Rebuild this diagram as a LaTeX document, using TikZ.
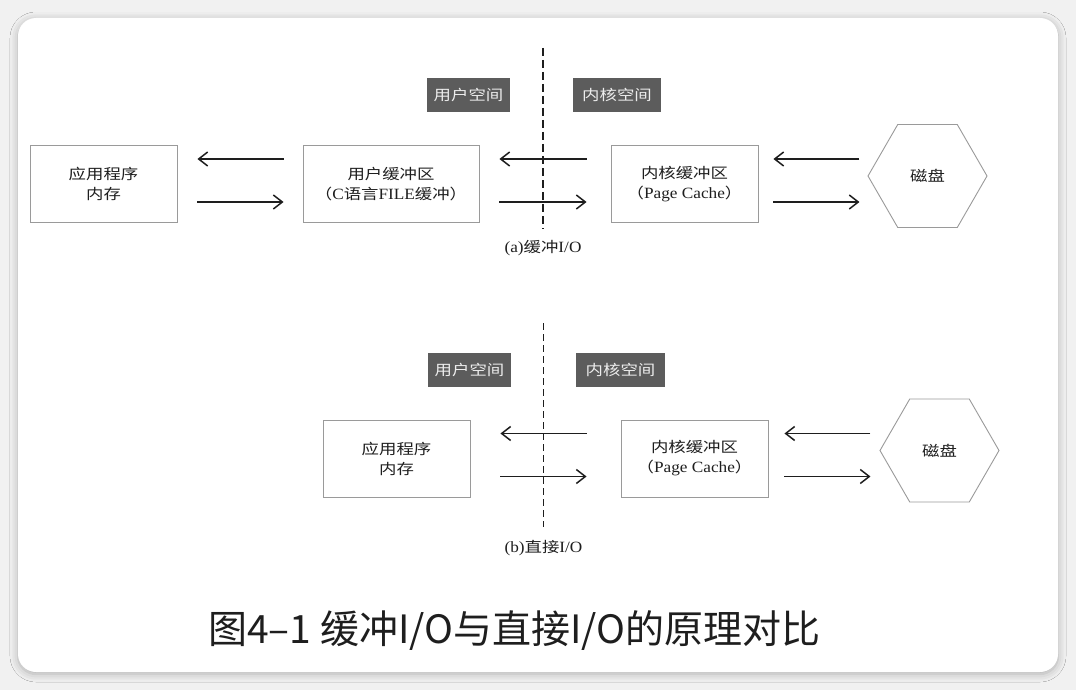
\documentclass[tikz,border=0pt]{standalone}
\usepackage{fontspec}
\setmainfont{Liberation Serif}[FakeStretch=1.1, Scale=1.08]
\newfontfamily\cjkfont{Noto Sans CJK SC}[FakeStretch=1.2]
\newfontfamily\titlefont{Noto Sans CJK SC}
\usetikzlibrary{arrows.meta,shapes.geometric,shadows.blur}
\definecolor{pagegray}{HTML}{F1F1F1}
\definecolor{boxgray}{HTML}{9A9A9A}
\definecolor{tabgray}{HTML}{5C5C5C}
\definecolor{tabtext}{HTML}{EDEDED}
\definecolor{inkblack}{HTML}{1E1E1E}
\newcommand\bodysize{\fontsize{14.5}{20}\selectfont}
\tikzset{
  membox/.style={draw=boxgray, line width=0.9pt, minimum width=147pt, minimum height=77pt, inner sep=0pt, align=center, font=\bodysize, text=inkblack},
  spacetab/.style={fill=tabgray, text=tabtext, minimum height=34pt, inner sep=0pt, font=\bodysize\cjkfont},
  diskhex/.style={draw=boxgray, line width=0.9pt, regular polygon, regular polygon sides=6, minimum size=119pt, inner sep=0pt, font=\bodysize\cjkfont, text=inkblack},
  flow/.style={draw=inkblack, line width=1.5pt, -{Straight Barb[length=9pt,width=14pt]}},
  divider/.style={draw=inkblack, line width=1.6pt, dash pattern=on 7pt off 4pt},
  subcaption/.style={font=\fontsize{14.5}{17}\selectfont, text=inkblack}
}
\begin{document}
\begin{tikzpicture}[x=1pt,y=-1pt]
	\useasboundingbox (0,0) rectangle (1076,690);
	\fill[pagegray] (0,0) rectangle (1076,690);
	\fill[white, rounded corners=18pt, blur shadow={shadow xshift=0pt, shadow yshift=-2pt, shadow blur radius=8pt, shadow opacity=28}] (18,18) rectangle (1058,672);

	% (a) buffered I/O
	\coordinate (cutAtop) at (543,48);
	\coordinate (cutAbot) at (543,229);
	\draw[divider, line width=2pt, dash pattern=on 8pt off 4pt] (cutAtop) -- (cutAbot);
	\node[spacetab, minimum width=83pt] (userA) at (468.5,95) {用户空间};
	\node[spacetab, minimum width=88pt] (kernA) at (617,95) {内核空间};
	\node[membox] (appA) at (103.5,184) {{\cjkfont 应用程序}\\{\cjkfont 内存}};
	\node[membox, minimum width=176pt] (ubufA) at (391,184) {{\cjkfont 用户缓冲区}\\{\cjkfont （}C{\cjkfont 语言}FILE{\cjkfont 缓冲）}};
	\node[membox] (kbufA) at (684.5,184) {{\cjkfont 内核缓冲区}\\{\cjkfont （}Page Cache{\cjkfont ）}};
	\node[diskhex] (diskA) at (927.5,176) {磁盘};
	\draw[flow, shorten <=19pt, shorten >=20pt] ([yshift=25pt]ubufA.west) -- ([yshift=25pt]appA.east);
	\draw[flow, shorten <=20pt, shorten >=19pt] ([yshift=-18pt]appA.east) -- ([yshift=-18pt]ubufA.west);
	\draw[flow, shorten <=24pt, shorten >=20pt] ([yshift=25pt]kbufA.west) -- ([yshift=25pt]ubufA.east);
	\draw[flow, shorten <=20pt, shorten >=24pt] ([yshift=-18pt]ubufA.east) -- ([yshift=-18pt]kbufA.west);
	\draw[flow, shorten <=8pt, shorten >=15pt] ([yshift=25pt]kbufA.east -| diskA.west) -- ([yshift=25pt]kbufA.east);
	\draw[flow, shorten <=15pt, shorten >=8pt] ([yshift=-18pt]kbufA.east) -- ([yshift=-18pt]kbufA.east -| diskA.west);
	\node[subcaption] (capA) at (543,248) {(a){\cjkfont 缓冲}I/O};

	% (b) direct I/O
	\coordinate (cutBtop) at (543.5,323);
	\coordinate (cutBbot) at (543.5,527);
	\draw[divider, line width=1.3pt] (cutBtop) -- (cutBbot);
	\node[spacetab, minimum width=83pt] (userB) at (469.5,369.5) {用户空间};
	\node[spacetab, minimum width=89pt] (kernB) at (620.5,369.5) {内核空间};
	\node[membox] (appB) at (396.5,458.5) {{\cjkfont 应用程序}\\{\cjkfont 内存}};
	\node[membox] (kbufB) at (694.5,458.5) {{\cjkfont 内核缓冲区}\\{\cjkfont （}Page Cache{\cjkfont ）}};
	\node[diskhex] (diskB) at (939.5,450.5) {磁盘};
	\draw[flow, shorten <=34pt, shorten >=30pt] ([yshift=25pt]kbufB.west) -- ([yshift=25pt]appB.east);
	\draw[flow, shorten <=30pt, shorten >=34pt] ([yshift=-18pt]appB.east) -- ([yshift=-18pt]kbufB.west);
	\draw[flow, shorten <=9pt, shorten >=16pt] ([yshift=25pt]kbufB.east -| diskB.west) -- ([yshift=25pt]kbufB.east);
	\draw[flow, shorten <=16pt, shorten >=9pt] ([yshift=-18pt]kbufB.east) -- ([yshift=-18pt]kbufB.east -| diskB.west);
	\node[subcaption] (capB) at (543.5,548) {(b){\cjkfont 直接}I/O};

	\node[font=\titlefont\fontsize{39}{45}\selectfont, text=inkblack] (figtitle) at (514.5,631) {图4–1 缓冲I/O与直接I/O的原理对比};
\end{tikzpicture}
\end{document}
